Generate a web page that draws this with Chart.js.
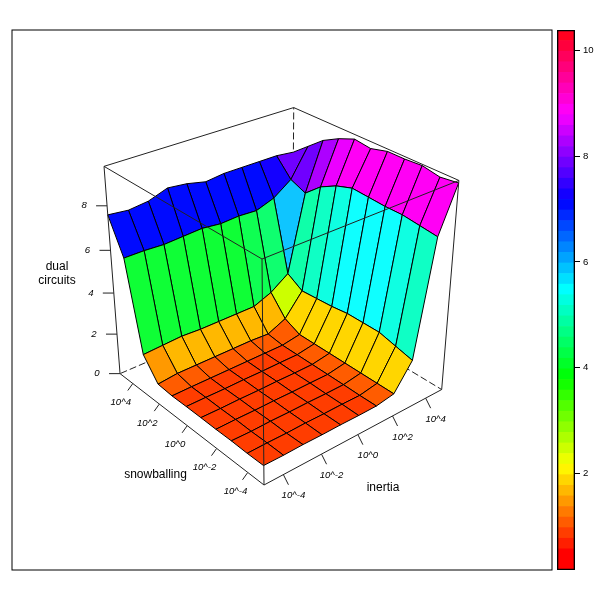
<!DOCTYPE html>
<html>
<head>
<meta charset="utf-8">
<script src="https://cdn.jsdelivr.net/npm/chart.js@4"></script>
<style>
body { margin: 0; background: #fff; }
canvas { position: absolute; left: 0; top: 0; }
</style>
</head>
<body>
<canvas id="surface" width="600" height="600"></canvas>
<canvas id="key" width="600" height="600"></canvas>
<script>
// Values
const inertia = [-5, -4, -3, -2, -1, 0, 1, 2, 3, 4, 5];
const snowballing = [-5, -4, -3, -2, -1, 0, 1, 2, 3, 4, 5];
// one row per snowballing value, one column per inertia value
const dualCircuits = [
    [0.94, 0.93, 0.95, 0.94, 0.95, 0.94, 0.95, 1.1, 2.3, 7.6, 9.6],
    [0.93, 0.94, 0.93, 0.95, 0.94, 0.95, 0.94, 1.1, 2.5, 7.7, 9.5],
    [0.95, 0.93, 0.95, 0.94, 0.95, 0.94, 0.95, 1.1, 2.7, 7.8, 9.65],
    [0.94, 0.95, 0.94, 0.95, 0.94, 0.95, 0.95, 1.1, 2.7, 7.8, 9.6],
    [0.95, 0.94, 0.95, 0.94, 0.95, 0.94, 0.95, 1.1, 2.7, 7.85, 9.6],
    [0.95, 0.95, 0.94, 0.95, 0.94, 0.95, 0.95, 1.1, 2.6, 7.9, 9.4],
    [0.94, 0.95, 0.95, 0.95, 0.95, 0.95, 0.95, 1.1, 2.55, 7.65, 9.5],
    [1.0, 1.1, 1.1, 1.1, 1.1, 1.1, 1.05, 1.45, 2.5, 7.25, 9.2],
    [1.95, 2.0, 2.05, 2.0, 2.0, 2.0, 2.0, 2.35, 2.95, 6.6, 8.8],
    [6.05, 6.05, 6.0, 6.05, 6.1, 6.0, 6.05, 6.0, 6.3, 6.9, 8.2],
    [7.6, 7.5, 7.6, 7.9, 7.8, 7.6, 7.7, 7.7, 7.7, 7.7, 7.6]
];
const logTicks = [-4, -2, 0, 2, 4];
const logTickLabels = ['10^-4', '10^-2', '10^0', '10^2', '10^4'];
const zTicks = [0, 2, 4, 6, 8];
const keyTicks = [2, 4, 6, 8, 10];

const logMin = -5, logMax = 5, zTop = 9.706;
const keyMin = 0.18, keyStart = 0.58, keyStep = 0.2, keyBands = 50;
const colorLift = 1.03; // panel colours sit a little above the height scale
const lineColor = '#222';

// Box corners on the page: u (inertia), v (snowballing), w (height), x, y
const boxCorners = [
    [0, 0, 0, 263, 486], [1, 0, 0, 441.5, 389], [0, 1, 0, 120, 373], [1, 1, 0, 293, 300],
    [0, 0, 1, 263, 258], [1, 0, 1, 459, 181], [0, 1, 1, 104, 167], [1, 1, 1, 293, 107]
];

// Least squares fit of the perspective camera through the corners
function fitCamera(corners) {
    const m = Array.from({ length: 11 }, () => Array(12).fill(0));
    const add = (r, b) => {
        for (let a = 0; a < 11; a++) {
            for (let c = 0; c < 11; c++) m[a][c] += r[a] * r[c];
            m[a][11] += r[a] * b;
        }
    };
    corners.forEach(([u, v, w, x, y]) => {
        add([u, v, w, 1, 0, 0, 0, 0, -x * u, -x * v, -x * w], x);
        add([0, 0, 0, 0, u, v, w, 1, -y * u, -y * v, -y * w], y);
    });
    for (let i = 0; i < 11; i++) {
        let best = i;
        for (let r = i; r < 11; r++) if (Math.abs(m[r][i]) > Math.abs(m[best][i])) best = r;
        [m[i], m[best]] = [m[best], m[i]];
        for (let r = 0; r < 11; r++) {
            if (r === i) continue;
            const f = m[r][i] / m[i][i];
            for (let c = i; c < 12; c++) m[r][c] -= f * m[i][c];
        }
    }
    return m.map((r, i) => r[11] / r[i]);
}
const cam = fitCamera(boxCorners);

function corner(u, v, w) {
    const d = cam[8] * u + cam[9] * v + cam[10] * w + 1;
    return {
        x: (cam[0] * u + cam[1] * v + cam[2] * w + cam[3]) / d,
        y: (cam[4] * u + cam[5] * v + cam[6] * w + cam[7]) / d
    };
}
const toUnit = (log) => (log - logMin) / (logMax - logMin);
const project = (inert, snow, z) => corner(toUnit(inert), toUnit(snow), z / zTop);

// rainbow palette of the colour key
const keyColors = Array.from({ length: keyBands }, (_, k) => `hsl(${k * 360 / keyBands}, 100%, 50%)`);
function panelColor(z) {
    const k = Math.min(keyBands - 1, Math.max(0, Math.floor((z * colorLift - keyStart) / keyStep) + 1));
    // the greens and cyans of the surface are a bit paler than in the key
    const light = k >= 14 && k <= 27 ? 53 : 50;
    return `hsl(${k * 360 / keyBands}, 100%, ${light}%)`;
}

function path(points, color, dash) {
    return {
        data: points, showLine: true, pointRadius: 0, borderWidth: 1,
        borderColor: color, borderDash: dash || [], fill: false, tension: 0
    };
}
function panel(points, color) {
    return {
        data: [...points, points[0]], showLine: true, pointRadius: 0, borderWidth: 1,
        borderColor: '#000', backgroundColor: color, fill: 'shape', tension: 0
    };
}
const A = corner(0, 0, 0), B = corner(1, 0, 0), C = corner(0, 1, 0), D = corner(1, 1, 0);
const E = corner(0, 0, 1), F = corner(1, 0, 1), G = corner(0, 1, 1), H = corner(1, 1, 1);
const snap = (p) => ({ x: Math.round(p.x), y: Math.round(p.y) });

// Painted from back to front
const layers = [];
layers.push(path([D, C], lineColor, [7, 3]));
layers.push(path([D, B], lineColor, [7, 3]));
layers.push(path([D, H], lineColor, [7, 3]));
layers.push(path([G, H, F], lineColor));

for (let j = snowballing.length - 2; j >= 0; j--) {
    for (let i = inertia.length - 2; i >= 0; i--) {
        const z = [dualCircuits[j][i], dualCircuits[j][i + 1], dualCircuits[j + 1][i + 1], dualCircuits[j + 1][i]];
        const mean = (z[0] + z[1] + z[2] + z[3]) / 4;
        layers.push(panel([
            project(inertia[i], snowballing[j], z[0]),
            project(inertia[i + 1], snowballing[j], z[1]),
            project(inertia[i + 1], snowballing[j + 1], z[2]),
            project(inertia[i], snowballing[j + 1], z[3])
        ], panelColor(mean)));
    }
}

layers.push(path([C, G, snap(E), F, B, snap(A), C], lineColor));
layers.push(path([snap(E), snap(A)], lineColor));

// Tick marks on the three axes
logTicks.forEach((t) => {
    const s = project(logMin, t, 0), r = project(t, logMin, 0);
    layers.push(path([s, { x: s.x - 5, y: s.y + 7 }], lineColor));
    layers.push(path([r, { x: r.x + 5, y: r.y + 10 }], lineColor));
});
zTicks.forEach((t) => {
    const p = project(logMin, logMax, t);
    layers.push(path([p, { x: p.x - 11, y: p.y }], lineColor));
});

const panelText = {
    id: 'panelText',
    afterDraw(chart) {
        const ctx = chart.ctx, area = chart.chartArea;
        ctx.save();
        ctx.strokeStyle = '#000';
        ctx.lineWidth = 1;
        ctx.strokeRect(area.left, area.top, area.right - area.left, area.bottom - area.top);
        ctx.fillStyle = '#000';
        ctx.textAlign = 'center';
        ctx.textBaseline = 'middle';
        ctx.font = "italic 9.6px 'Liberation Sans'";
        logTicks.forEach((t, n) => {
            const s = project(logMin, t, 0), r = project(t, logMin, 0);
            ctx.fillText(logTickLabels[n], s.x - 12, s.y + 19);
            ctx.fillText(logTickLabels[n], r.x + 10, r.y + 21);
        });
        zTicks.forEach((t) => {
            const p = project(logMin, logMax, t);
            ctx.fillText(String(t), p.x - 23, p.y);
        });
        ctx.font = "12px 'Liberation Sans'";
        ctx.fillText('snowballing', 155.5, 475);
        ctx.fillText('inertia', 383, 488);
        ctx.fillText('dual', 57, 267);
        ctx.fillText('circuits', 57, 281);
        ctx.restore();
    }
};

// Chart.js paints the first dataset last, so the list goes in reversed
new Chart(document.getElementById('surface'), {
    type: 'scatter',
    data: { datasets: layers.reverse() },
    options: {
        responsive: false,
        animation: false,
        events: [],
        layout: { padding: { left: 12, right: 48, top: 30, bottom: 30 } },
        plugins: { legend: { display: false }, tooltip: { enabled: false } },
        scales: {
            x: { type: 'linear', display: false, min: 12, max: 552 },
            y: { type: 'linear', display: false, min: 30, max: 570, reverse: true }
        }
    },
    plugins: [panelText]
});

// Colour key, the lowest band is twice as tall as the others
const keyData = keyColors.map((c, k) => ({
    data: [[k === 0 ? keyMin : keyStart + (k - 1) * keyStep, keyStart + k * keyStep]],
    backgroundColor: c,
    grouped: false,
    barPercentage: 1,
    categoryPercentage: 1,
    order: 1
}));
keyData.push({
    data: [[keyMin, keyStart + (keyBands - 1) * keyStep]],
    backgroundColor: 'rgba(0,0,0,0)',
    borderColor: '#000',
    borderWidth: 1,
    borderSkipped: false,
    grouped: false,
    barPercentage: 1,
    categoryPercentage: 1,
    order: 0
});

new Chart(document.getElementById('key'), {
    type: 'bar',
    data: { labels: ['key'], datasets: keyData },
    options: {
        responsive: false,
        animation: false,
        events: [],
        layout: { padding: { left: 557, right: 0, top: 30, bottom: 30 } },
        plugins: { legend: { display: false }, tooltip: { enabled: false } },
        scales: {
            x: { display: false },
            y: {
                position: 'right',
                min: keyMin,
                max: keyStart + (keyBands - 1) * keyStep,
                afterFit: (scale) => { scale.width = 25; },
                afterBuildTicks: (scale) => { scale.ticks = keyTicks.map((v) => ({ value: v })); },
                border: { display: false },
                grid: { drawOnChartArea: false, color: '#000', tickLength: 5 },
                ticks: {
                    color: '#000',
                    padding: 3,
                    font: { family: "'Liberation Sans'", size: 9.6 },
                    callback: (v) => String(v)
                }
            }
        }
    }
});
</script>
</body>
</html>
